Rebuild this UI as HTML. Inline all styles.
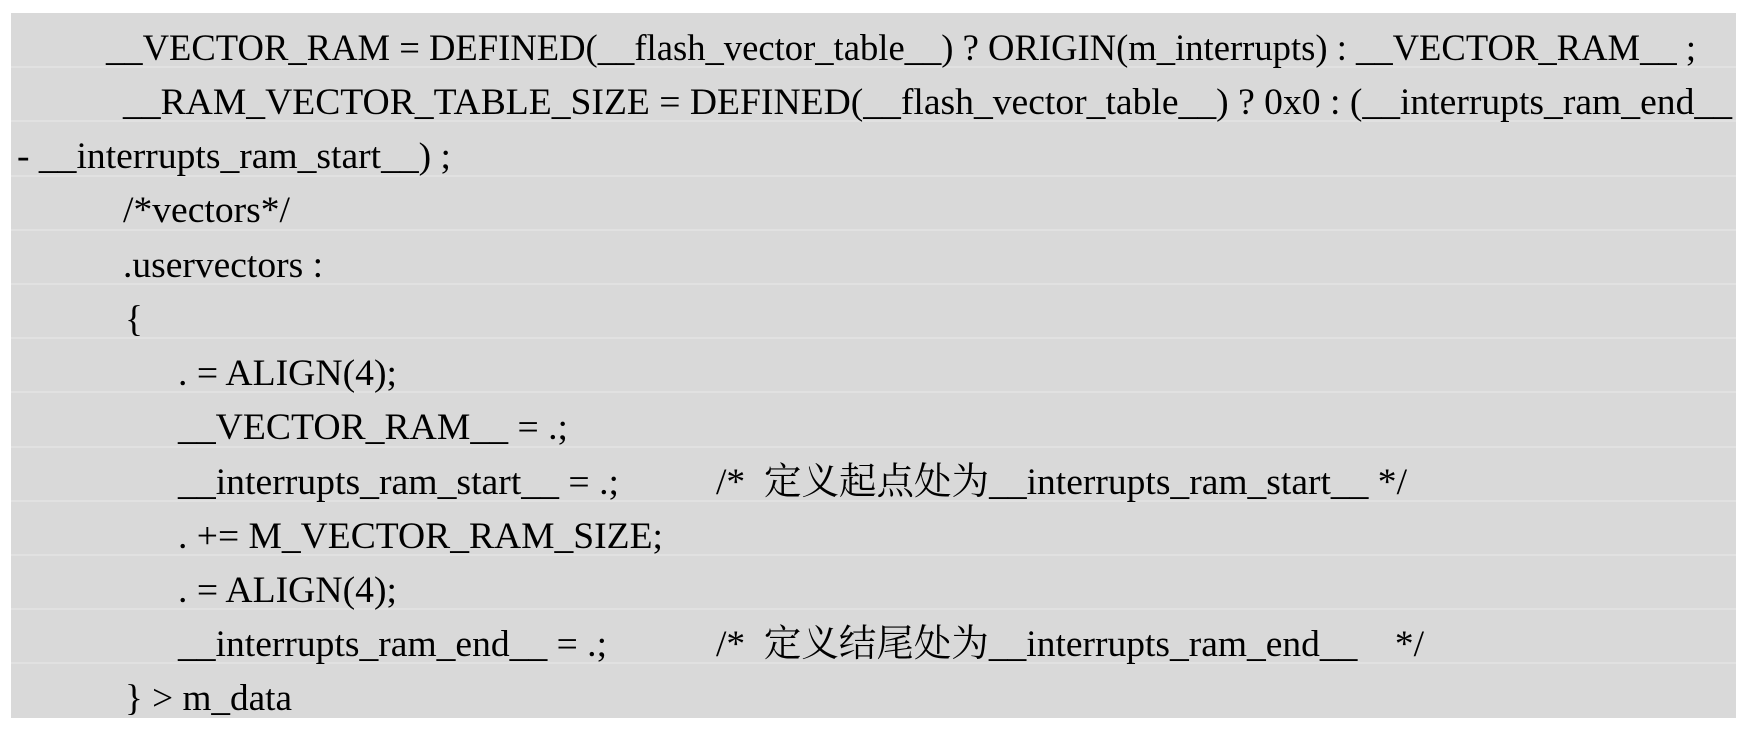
<!DOCTYPE html>
<html><head><meta charset="utf-8"><style>
html,body{margin:0;padding:0;background:#fff;}
svg{display:block;}
text{font-family:"Liberation Serif","Noto Serif CJK SC",serif;font-size:37.5px;fill:#000;}
</style></head><body>
<svg width="1747" height="732" viewBox="0 0 1747 732" xmlns="http://www.w3.org/2000/svg">
<rect x="11" y="13" width="1725" height="705" fill="#d9d9d9"/>
<g stroke="#e4e4e4" stroke-width="1.5">
<line x1="11" y1="67" x2="1736" y2="67"/>
<line x1="11" y1="121" x2="1736" y2="121"/>
<line x1="11" y1="176" x2="1736" y2="176"/>
<line x1="11" y1="230" x2="1736" y2="230"/>
<line x1="11" y1="284" x2="1736" y2="284"/>
<line x1="11" y1="338" x2="1736" y2="338"/>
<line x1="11" y1="392" x2="1736" y2="392"/>
<line x1="11" y1="447" x2="1736" y2="447"/>
<line x1="11" y1="501" x2="1736" y2="501"/>
<line x1="11" y1="555" x2="1736" y2="555"/>
<line x1="11" y1="609" x2="1736" y2="609"/>
<line x1="11" y1="663" x2="1736" y2="663"/>
</g>
<text x="106" y="60" textLength="1590" lengthAdjust="spacingAndGlyphs">__VECTOR_RAM = DEFINED(__flash_vector_table__) ? ORIGIN(m_interrupts) : __VECTOR_RAM__ ;</text>
<text x="123" y="114" textLength="1609" lengthAdjust="spacingAndGlyphs">__RAM_VECTOR_TABLE_SIZE = DEFINED(__flash_vector_table__) ? 0x0 : (__interrupts_ram_end__</text>
<text x="17" y="168" textLength="434" lengthAdjust="spacingAndGlyphs">- __interrupts_ram_start__) ;</text>
<text x="123" y="222" textLength="167" lengthAdjust="spacingAndGlyphs">/*vectors*/</text>
<text x="123" y="277" textLength="200" lengthAdjust="spacingAndGlyphs">.uservectors :</text>
<text x="125" y="331">{</text>
<text x="178" y="385" textLength="219" lengthAdjust="spacingAndGlyphs">. = ALIGN(4);</text>
<text x="178" y="439" textLength="390" lengthAdjust="spacingAndGlyphs">__VECTOR_RAM__ = .;</text>
<text x="178" y="494" textLength="441" lengthAdjust="spacingAndGlyphs">__interrupts_ram_start__ = .;</text>
<text x="716" y="494" textLength="691" lengthAdjust="spacingAndGlyphs">/*&#160; 定义起点处为__interrupts_ram_start__ */</text>
<text x="178" y="548" textLength="485" lengthAdjust="spacingAndGlyphs">. += M_VECTOR_RAM_SIZE;</text>
<text x="178" y="602" textLength="219" lengthAdjust="spacingAndGlyphs">. = ALIGN(4);</text>
<text x="178" y="656" textLength="429" lengthAdjust="spacingAndGlyphs">__interrupts_ram_end__ = .;</text>
<text x="716" y="656" textLength="708" lengthAdjust="spacingAndGlyphs">/*&#160; 定义结尾处为__interrupts_ram_end__&#160;&#160;&#160; */</text>
<text x="125" y="710" textLength="167" lengthAdjust="spacingAndGlyphs">} &gt; m_data</text>
</svg>
</body></html>
